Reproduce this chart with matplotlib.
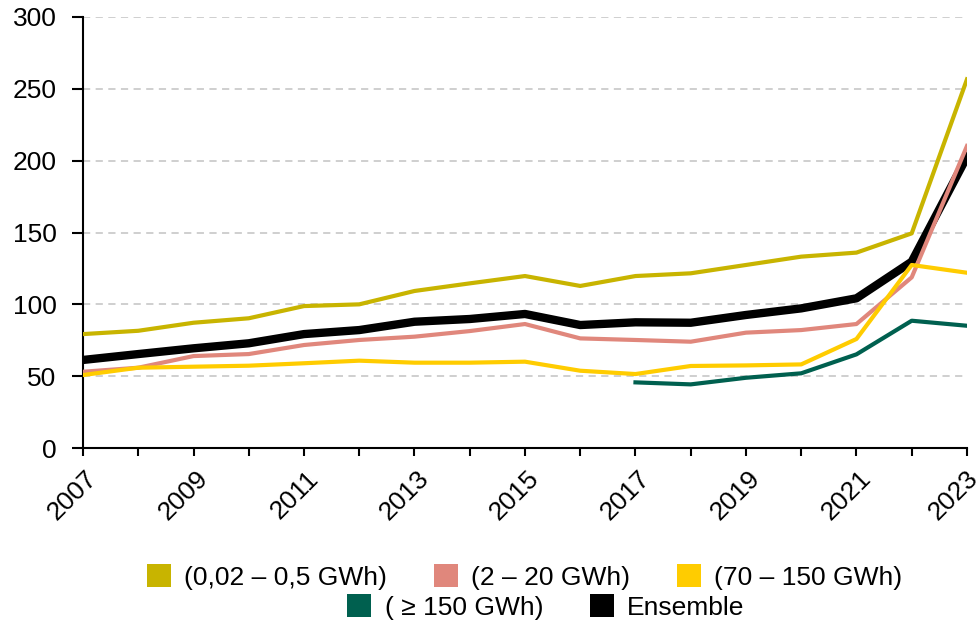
import matplotlib
matplotlib.use("Agg")
import matplotlib.pyplot as plt
from matplotlib.patches import Patch
import matplotlib.transforms as mtransforms

plt.rcParams['font.family'] = ['Liberation Sans', 'DejaVu Sans']

years = list(range(2007, 2024))
small = [79.3, 81.6, 87.2, 90.3, 98.8, 100.0, 109.3, 114.6, 119.7, 112.8, 119.7, 121.6, 127.4, 133.2, 136.0, 149.4, 256.6]
medium = [53.1, 55.9, 64.0, 65.4, 71.7, 75.2, 77.5, 81.4, 86.3, 76.3, 75.2, 74.0, 80.3, 82.1, 86.3, 118.8, 210.2]
large = [50.8, 55.9, 56.6, 57.3, 59.0, 60.8, 59.4, 59.4, 60.1, 53.8, 51.5, 57.1, 57.5, 58.2, 75.9, 127.4, 122.0]
xl_years = list(range(2017, 2024))
xlarge = [45.7, 44.3, 48.9, 52.0, 65.2, 88.6, 85.1]
total = [61.3, 65.4, 69.4, 72.9, 79.3, 82.1, 87.9, 89.8, 93.3, 85.6, 87.5, 87.2, 92.6, 97.2, 104.2, 129.7, 202.8]

labels = ["(0,02 – 0,5 GWh)", "(2 – 20 GWh)", "(70 – 150 GWh)", "( ≥ 150 GWh)", "Ensemble"]
colors = ["#C8B400", "#E0877C", "#FFCC00", "#00604F", "#000000"]
y_ticks = [0, 50, 100, 150, 200, 250, 300]

fig = plt.figure(figsize=(9.79, 6.24), dpi=100)
ax = fig.add_axes([0.0848, 0.282, 0.9029, 0.6908])

ax.plot(years, total, color=colors[4], lw=6.0, zorder=2)
ax.plot(years, small, color=colors[0], lw=3.0, zorder=3)
ax.plot(years, medium, color=colors[1], lw=3.0, zorder=3)
ax.plot(years, large, color=colors[2], lw=3.0, zorder=3)
ax.plot(xl_years, xlarge, color=colors[3], lw=3.0, zorder=3)

ax.set_xlim(2007, 2023)
ax.set_ylim(0, 300)
ax.set_yticks(y_ticks)
ax.set_xticks(years)
ax.set_xticklabels([str(y) if (y - 2007) % 2 == 0 else "" for y in years],
                   rotation=45, ha='right', va='top', rotation_mode='anchor')
for g in y_ticks[1:]:
    ax.axhline(g, color='#CCCCCC', lw=1.3, ls=(0, (4, 3)), zorder=1)

for s in ['top', 'right']:
    ax.spines[s].set_visible(False)
for s in ['left', 'bottom']:
    ax.spines[s].set_linewidth(1.5)
ax.tick_params(axis='y', length=8, width=1.5, pad=11, labelsize=19)
ax.tick_params(axis='x', length=6, width=1.5, pad=7, labelsize=19)

xlabs = ax.get_xticklabels()
for i, lab in enumerate(xlabs):
    dx = 1.5 if i < len(xlabs) - 1 else -1.0
    offset = mtransforms.ScaledTranslation(dx/72, 0, fig.dpi_scale_trans)
    lab.set_transform(lab.get_transform() + offset)

handles = [Patch(facecolor=c, edgecolor='none') for c in colors]
kw = dict(frameon=False, fontsize=19, handlelength=0.91, handleheight=0.91,
          handletextpad=0.5, columnspacing=1.78, borderaxespad=0, borderpad=0)
leg1 = fig.legend(handles[:3], labels[:3], ncol=3, loc='center',
                  bbox_to_anchor=(524.5/979, 1 - 577/624), **kw)
leg2 = fig.legend(handles[3:], labels[3:], ncol=2, loc='center',
                  bbox_to_anchor=(546/979, 1 - 607/624), **kw)

fig.savefig("out.png", dpi=100)
